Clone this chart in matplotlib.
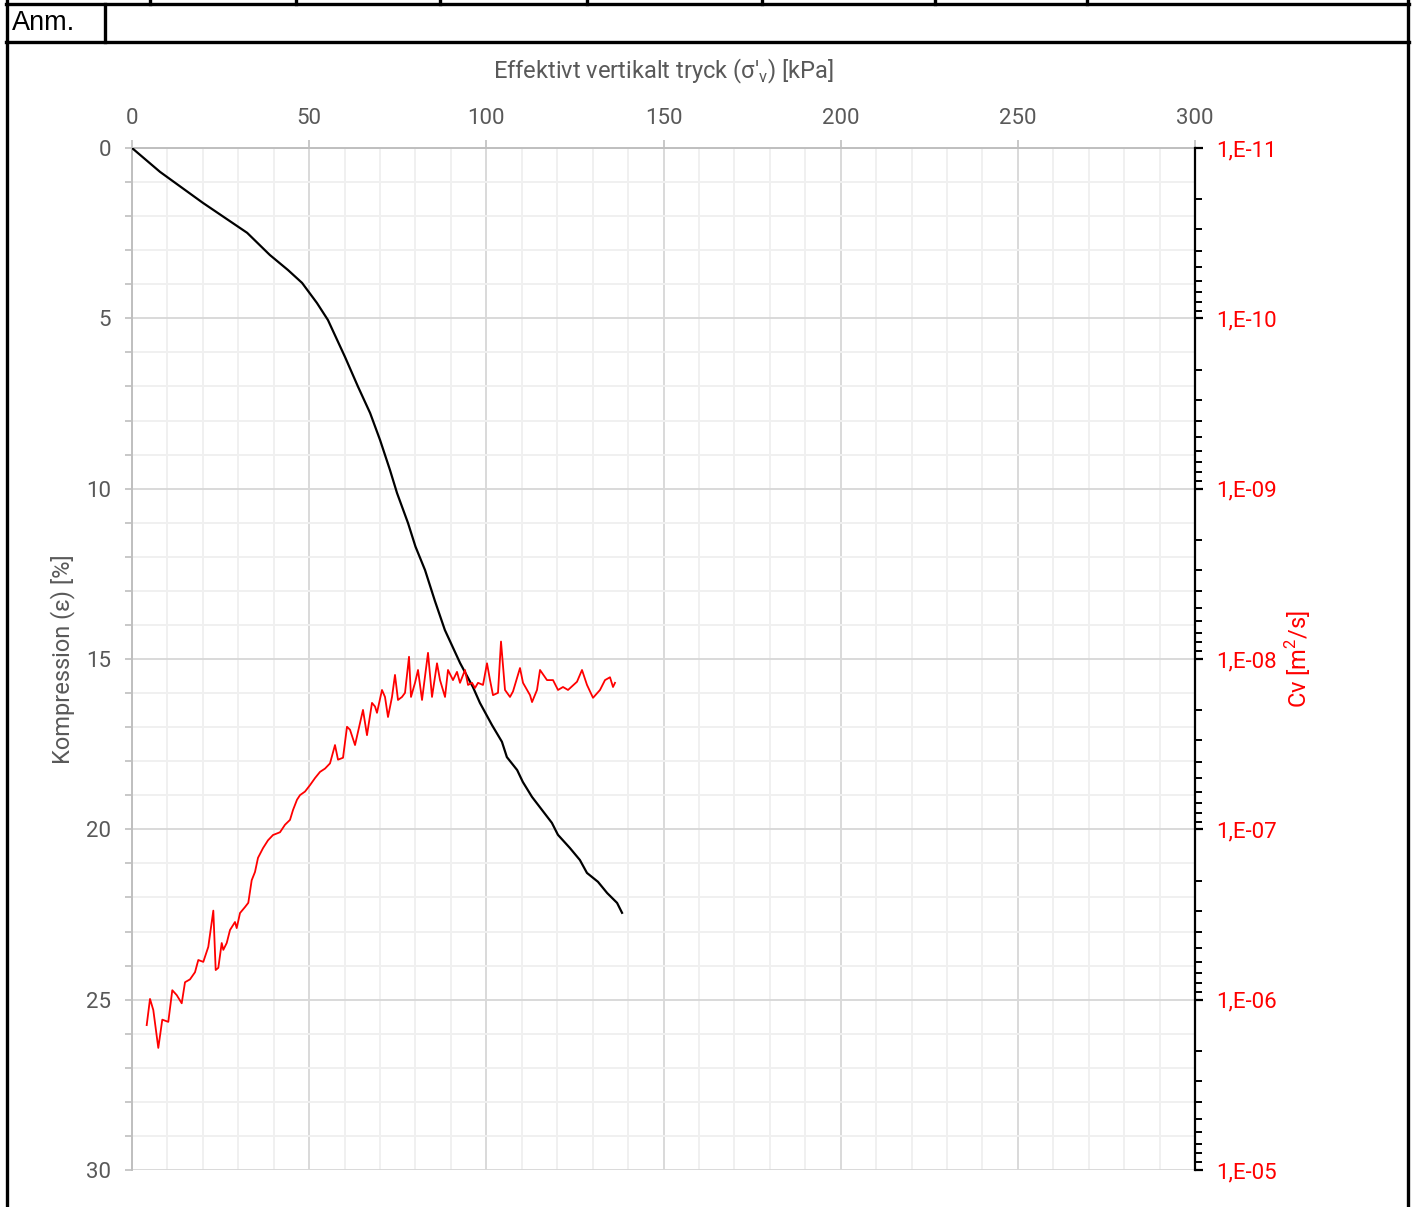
import numpy as np
import matplotlib
matplotlib.use("Agg")
import matplotlib.pyplot as plt
from matplotlib.lines import Line2D
from matplotlib.ticker import MultipleLocator, FixedLocator, FuncFormatter, LogLocator, NullFormatter

plt.rcParams['font.family'] = ['Roboto', 'DejaVu Sans']
plt.rcParams['mathtext.fontset'] = 'custom'
plt.rcParams['mathtext.rm'] = 'Roboto'

# Compression curve: effective vertical stress [kPa] vs compression [%]
stress_comp = [0, 7.9, 20.0, 32.5, 38.9, 44.0, 48.0, 52.2, 55.3, 60.1, 63.8, 67.2,
               70.0, 72.8, 74.8, 77.9, 80.0, 82.7, 85.5, 88.3, 92.6, 96.2, 98.2, 101.6,
               104.4, 105.8, 108.7, 110.3, 112.9, 115.7, 118.5, 120.2, 123.6, 126.4,
               128.4, 131.5, 134.1, 136.9, 138.3]
compression = [0, 0.70, 1.61, 2.49, 3.14, 3.58, 3.96, 4.55, 5.05, 6.13, 7.01, 7.78,
               8.57, 9.45, 10.13, 11.01, 11.70, 12.39, 13.30, 14.15, 15.12, 15.82, 16.29,
               16.94, 17.43, 17.88, 18.26, 18.61, 19.05, 19.43, 19.81, 20.16, 20.55,
               20.90, 21.28, 21.54, 21.87, 22.16, 22.45]

# Coefficient of consolidation Cv [m2/s]
stress_cv = [4.15, 5.08, 6.01, 7.42, 8.55, 10.24, 11.37, 12.62, 14.03, 14.96, 16.37,
             17.78, 18.71, 20.12, 21.53, 22.95, 23.62, 24.36, 25.32, 25.77, 26.73,
             27.66, 29.07, 29.55, 30.48, 31.89, 32.82, 33.78, 34.71, 35.56, 36.97,
             38.38, 39.79, 41.77, 43.18, 44.59, 45.44, 46.57, 47.41, 48.83, 50.24,
             51.65, 53.06, 54.47, 55.88, 57.29, 58.14, 59.55, 60.68, 61.52, 62.94,
             65.19, 66.32, 67.73, 68.58, 69.14, 70.55, 71.40, 72.25, 73.38, 74.22,
             75.07, 76.20, 77.05, 78.18, 78.74, 79.87, 80.72, 81.85, 83.54, 84.67,
             86.08, 86.93, 88.34, 89.18, 90.59, 91.72, 92.57, 93.98, 94.83, 95.96,
             96.80, 97.65, 99.06, 100.19, 101.04, 101.88, 103.29, 104.14, 105.27,
             106.68, 107.53, 109.50, 110.35, 112.33, 112.90, 114.30, 115.15, 117.12,
             118.82, 120.23, 121.64, 123.05, 125.59, 127.00, 128.41, 130.11, 132.08,
             133.49, 134.90, 135.75, 136.31]
cv = [1.41e-6, 9.9e-7, 1.15e-6, 1.92e-6, 1.31e-6, 1.35e-6, 8.8e-7, 9.4e-7, 1.05e-6,
      7.9e-7, 7.6e-7, 6.9e-7, 5.85e-7, 6.0e-7, 4.9e-7, 3.0e-7, 6.7e-7, 6.5e-7,
      4.65e-7, 5.1e-7, 4.65e-7, 3.9e-7, 3.5e-7, 3.8e-7, 3.1e-7, 2.86e-7, 2.7e-7,
      1.99e-7, 1.78e-7, 1.47e-7, 1.29e-7, 1.16e-7, 1.08e-7, 1.04e-7, 9.4e-8, 8.8e-8,
      7.7e-8, 6.7e-8, 6.3e-8, 6.0e-8, 5.5e-8, 5.0e-8, 4.6e-8, 4.4e-8, 4.1e-8, 3.2e-8,
      3.9e-8, 3.8e-8, 2.5e-8, 2.6e-8, 3.2e-8, 1.99e-8, 2.8e-8, 1.81e-8, 1.9e-8,
      2.07e-8, 1.52e-8, 1.67e-8, 2.19e-8, 1.67e-8, 1.24e-8, 1.74e-8, 1.67e-8,
      1.58e-8, 9.7e-9, 1.67e-8, 1.38e-8, 1.16e-8, 1.74e-8, 9.2e-9, 1.67e-8, 1.06e-8,
      1.33e-8, 1.67e-8, 1.16e-8, 1.33e-8, 1.19e-8, 1.38e-8, 1.16e-8, 1.42e-8,
      1.38e-8, 1.48e-8, 1.38e-8, 1.42e-8, 1.06e-8, 1.33e-8, 1.63e-8, 1.58e-8, 7.9e-9,
      1.52e-8, 1.67e-8, 1.55e-8, 1.13e-8, 1.38e-8, 1.63e-8, 1.79e-8, 1.52e-8,
      1.16e-8, 1.33e-8, 1.33e-8, 1.52e-8, 1.46e-8, 1.52e-8, 1.36e-8, 1.16e-8,
      1.42e-8, 1.69e-8, 1.52e-8, 1.33e-8, 1.28e-8, 1.46e-8, 1.38e-8]

cv_decades = [1e-11, 1e-10, 1e-9, 1e-8, 1e-7, 1e-6, 1e-5]

gray = '#595959'
grid_major = '#d9d9d9'
grid_minor = '#f0f0f0'

fig = plt.figure(figsize=(14.14, 12.07), dpi=100)
ax = fig.add_axes([132 / 1414, 1 - 1170 / 1207, (1195 - 132) / 1414, (1170 - 148) / 1207])

ax.plot(stress_comp, compression, color='black', lw=1.6, zorder=3)
ax.set_xlim(0, 300)
ax.set_ylim(30, 0)
ax.xaxis.set_major_locator(MultipleLocator(50))
ax.xaxis.set_minor_locator(MultipleLocator(10))
ax.yaxis.set_major_locator(MultipleLocator(5))
ax.yaxis.set_minor_locator(MultipleLocator(1))
ax.grid(which='major', color=grid_major, lw=1.4)
ax.grid(which='minor', color=grid_minor, lw=1.4)
ax.set_axisbelow(True)

ax.xaxis.tick_top()
ax.xaxis.set_label_position('top')
ax.tick_params(axis='x', which='major', direction='out', length=6, width=1.2,
               color='#bfbfbf', labelcolor=gray, labelsize=16, pad=8)
ax.tick_params(axis='x', which='minor', length=0)
ax.tick_params(axis='y', which='both', direction='out', length=5, width=1.2,
               color='#bfbfbf', labelcolor=gray, labelsize=16, pad=10)
for side in ['right', 'bottom']:
    ax.spines[side].set_visible(False)
for side in ['left', 'top']:
    ax.spines[side].set_color('#bfbfbf')
    ax.spines[side].set_linewidth(1.4)

ax.set_xlabel("Effektivt vertikalt tryck (σ'$_\\mathregular{v}$) [kPa]", fontsize=17,
              color=gray, labelpad=21)
ax.set_ylabel('Kompression (ε) [%]', fontsize=17, color=gray, labelpad=8)

# secondary axis: Cv on inverted log scale
ax2 = ax.twinx()
ax2.plot(stress_cv, cv, color='red', lw=1.3, zorder=3)
ax2.set_yscale('log')
ax2.set_ylim(1e-5, 1e-11)
ax2.yaxis.set_major_locator(FixedLocator(cv_decades))
ax2.yaxis.set_minor_locator(LogLocator(base=10, subs=np.arange(2, 10)))
ax2.yaxis.set_minor_formatter(NullFormatter())
ax2.yaxis.set_major_formatter(FuncFormatter(
    lambda v, pos: '1,E-%02d' % int(round(-np.log10(v)))))
ax2.tick_params(axis='y', which='major', direction='out', length=6, width=1.6,
                color='black', labelcolor='red', labelsize=16, pad=9)
ax2.tick_params(axis='y', which='minor', direction='out', length=5, width=1.4,
                color='black')
for side in ['left', 'top', 'bottom']:
    ax2.spines[side].set_visible(False)
ax2.spines['right'].set_color('black')
ax2.spines['right'].set_linewidth(1.6)
ax2.set_ylabel('Cv [m$^\\mathregular{2}$/s]', fontsize=17, color='red', labelpad=5)

# report frame around the chart
frame = dict(color='black', lw=2.4, transform=fig.transFigure, clip_on=False)
W, H = 1414, 1207
def hline(y, x0, x1):
    fig.add_artist(Line2D([x0 / W, x1 / W], [1 - y / H, 1 - y / H], **frame))
def vline(x, y0, y1):
    fig.add_artist(Line2D([x / W, x / W], [1 - y0 / H, 1 - y1 / H], **frame))

hline(4, 6, 1409)
hline(42, 6, 1409)
vline(7, 0, 1207)
vline(1408, 0, 1207)
vline(105, 4, 42)
for xs in [150, 296, 440, 587, 762, 935, 1087]:
    vline(xs, 0, 4)
fig.text(12 / W, 1 - 23 / H, 'Anm.', fontsize=19.5, color='black', va='center', ha='left',
         family=['Liberation Sans', 'DejaVu Sans'])

fig.savefig('out.png', dpi=100)
